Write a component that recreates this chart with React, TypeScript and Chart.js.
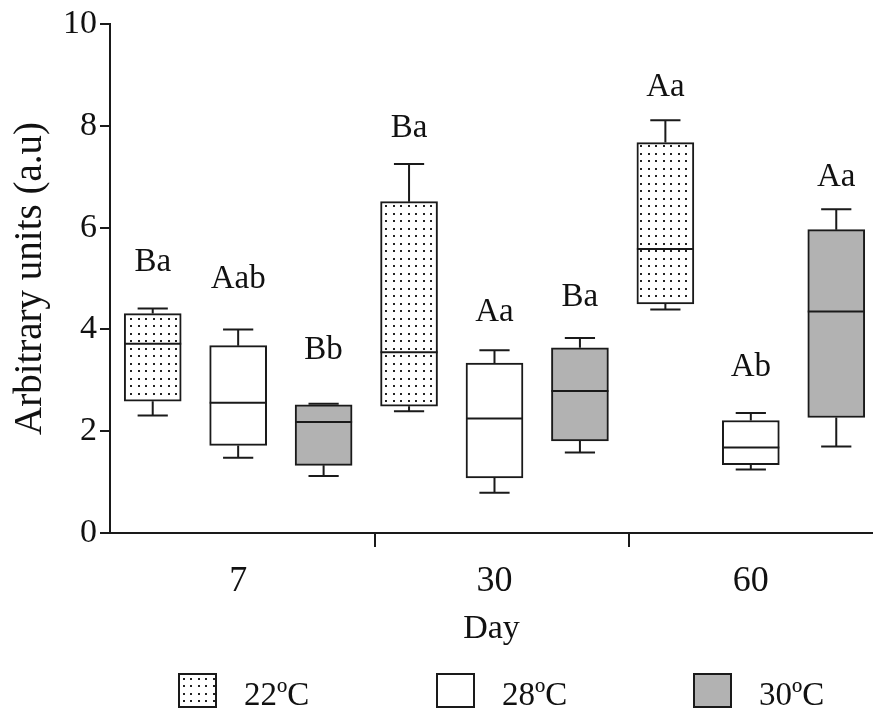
import React, { useEffect, useRef } from "react";
import { Chart, registerables } from "chart.js";

Chart.register(...registerables);

// ---- data ----
const days = ["7", "30", "60"];
const seriesLabels = ["22ºC", "28ºC", "30ºC"];

const t22Min = [2.31, 2.39, 4.39];
const t22Q1 = [2.59, 2.49, 4.5];
const t22Median = [3.72, 3.55, 5.58];
const t22Q3 = [4.31, 6.51, 7.67];
const t22Max = [4.41, 7.25, 8.11];
const t22Letters = ["Ba", "Ba", "Aa"];
const t22LetterY = [5.32, 7.95, 8.76];

const t28Min = [1.48, 0.79, 1.25];
const t28Q1 = [1.72, 1.08, 1.34];
const t28Median = [2.56, 2.25, 1.68];
const t28Q3 = [3.68, 3.34, 2.21];
const t28Max = [4.0, 3.59, 2.36];
const t28Letters = ["Aab", "Aa", "Ab"];
const t28LetterY = [4.99, 4.34, 3.26];

const t30Min = [1.12, 1.58, 1.7];
const t30Q1 = [1.33, 1.81, 2.27];
const t30Median = [2.18, 2.79, 4.35];
const t30Q3 = [2.52, 3.64, 5.96];
const t30Max = [2.54, 3.83, 6.36];
const t30Letters = ["Bb", "Ba", "Aa"];
const t30LetterY = [3.59, 4.63, 6.99];

const yTicks = [0, 2, 4, 6, 8, 10];
const groupSeparators = [2.6, 5.57];

const FONT = "'Liberation Serif', 'Times New Roman', serif";
const INK = "#111111";

function makeDotPattern(): CanvasPattern | string {
  const c = document.createElement("canvas");
  c.width = 15;
  c.height = 15;
  const g = c.getContext("2d");
  if (!g) return "#ffffff";
  g.fillStyle = "#ffffff";
  g.fillRect(0, 0, 15, 15);
  g.fillStyle = "#222222";
  const pts = [
    [3, 3],
    [10, 3],
    [3, 10],
    [10, 10],
  ];
  pts.forEach(([x, y]) => g.fillRect(x, y, 2, 2));
  const p = g.createPattern(c, "repeat");
  return p || "#ffffff";
}

const boxExtras = {
  id: "boxExtras",
  afterDatasetsDraw(chart: any) {
    const ctx = chart.ctx;
    const ys = chart.scales.y;
    ctx.save();
    chart.data.datasets.forEach((ds: any, di: number) => {
      const meta = chart.getDatasetMeta(di);
      meta.data.forEach((bar: any, i: number) => {
        const { x, width } = bar.getProps(["x", "width"], true);
        const yQ1 = ys.getPixelForValue(ds.q1[i]);
        const yQ3 = ys.getPixelForValue(ds.q3[i]);
        const yMin = ys.getPixelForValue(ds.wMin[i]);
        const yMax = ys.getPixelForValue(ds.wMax[i]);
        const yMed = ys.getPixelForValue(ds.median[i]);
        const capW = width * 0.53;
        ctx.strokeStyle = "#1a1a1a";
        ctx.lineWidth = 2;
        ctx.beginPath();
        ctx.moveTo(x, yQ3);
        ctx.lineTo(x, yMax);
        ctx.moveTo(x - capW / 2, yMax);
        ctx.lineTo(x + capW / 2, yMax);
        ctx.moveTo(x, yQ1);
        ctx.lineTo(x, yMin);
        ctx.moveTo(x - capW / 2, yMin);
        ctx.lineTo(x + capW / 2, yMin);
        ctx.moveTo(x - width / 2, yMed);
        ctx.lineTo(x + width / 2, yMed);
        ctx.stroke();
        ctx.fillStyle = INK;
        ctx.font = `33px ${FONT}`;
        ctx.textAlign = "center";
        ctx.textBaseline = "middle";
        ctx.fillText(ds.letters[i], x, ys.getPixelForValue(ds.letterY[i]));
      });
    });
    ctx.restore();
  },
  afterDraw(chart: any) {
    const ctx = chart.ctx;
    const xs = chart.scales.x;
    const bottom = chart.chartArea.bottom;
    ctx.save();
    ctx.strokeStyle = "#1a1a1a";
    ctx.lineWidth = 2;
    ctx.beginPath();
    groupSeparators.forEach((v) => {
      const px = Math.round(xs.getPixelForValue(v));
      ctx.moveTo(px, bottom);
      ctx.lineTo(px, bottom + 14);
    });
    ctx.stroke();

    // legend
    const left0 = 178;
    const pitch = 257.5;
    const boxW = 39;
    const boxH = 35;
    const top = 673;
    ctx.font = `33px ${FONT}`;
    ctx.textAlign = "left";
    ctx.textBaseline = "alphabetic";
    chart.data.datasets.forEach((ds: any, i: number) => {
      const bx = Math.round(left0 + pitch * i);
      ctx.fillStyle = ds.backgroundColor;
      ctx.fillRect(bx, top, boxW, boxH);
      ctx.strokeStyle = "#1a1a1a";
      ctx.lineWidth = 2;
      ctx.strokeRect(bx + 1, top + 1, boxW - 2, boxH - 2);
      ctx.fillStyle = INK;
      ctx.fillText(ds.label, bx + boxW + 27, 705);
    });
    ctx.restore();
  },
};

export default function App() {
  const ref = useRef<HTMLCanvasElement | null>(null);

  useEffect(() => {
    document.body.style.margin = "0";
    const canvas = ref.current;
    if (!canvas) return;
    const dots = makeDotPattern();
    const fills: any[] = [dots, "#ffffff", "#b2b2b2"];
    const stats = [
      { q1: t22Q1, q3: t22Q3, median: t22Median, wMin: t22Min, wMax: t22Max, letters: t22Letters, letterY: t22LetterY },
      { q1: t28Q1, q3: t28Q3, median: t28Median, wMin: t28Min, wMax: t28Max, letters: t28Letters, letterY: t28LetterY },
      { q1: t30Q1, q3: t30Q3, median: t30Median, wMin: t30Min, wMax: t30Max, letters: t30Letters, letterY: t30LetterY },
    ];
    const nSeries = seriesLabels.length;
    const dayPositions = days.map((_, di) => di * nSeries + (nSeries - 1) / 2);

    const datasets = seriesLabels.map((label, si) => ({
      label,
      data: days.map((_, di) => ({
        x: di * nSeries + si,
        y: [stats[si].q1[di], stats[si].q3[di]],
      })),
      backgroundColor: fills[si],
      borderColor: "#1a1a1a",
      borderWidth: 2,
      borderSkipped: false,
      barThickness: 57,
      grouped: false,
      ...stats[si],
    }));

    const chart = new Chart(canvas, {
      type: "bar",
      data: { datasets } as any,
      plugins: [boxExtras],
      options: {
        responsive: false,
        animation: false,
        devicePixelRatio: 1,
        layout: { padding: { top: 24, left: 0, right: 0, bottom: 0 } },
        plugins: {
          legend: { display: false },
          tooltip: { enabled: false },
        },
        scales: {
          x: {
            type: "linear",
            min: -0.5,
            max: 8.43,
            offset: false,
            grid: { display: true, drawOnChartArea: false, drawTicks: false },
            border: { display: true, color: "#1a1a1a", width: 2 },
            afterBuildTicks: (s: any) => {
              s.ticks = dayPositions.map((v) => ({ value: v }));
            },
            afterFit: (s: any) => {
              s.height = 177;
            },
            ticks: {
              autoSkip: false,
              maxRotation: 0,
              padding: 27,
              color: INK,
              font: { family: FONT, size: 36 },
              callback: (value: any) => {
                const idx = dayPositions.indexOf(Number(value));
                return idx >= 0 ? days[idx] : "";
              },
            },
            title: {
              display: true,
              text: "Day",
              color: INK,
              font: { family: FONT, size: 34 },
              padding: { top: 0, bottom: 61 },
            },
          },
          y: {
            type: "linear",
            min: 0,
            max: 10,
            afterBuildTicks: (s: any) => {
              s.ticks = yTicks.map((v) => ({ value: v }));
            },
            afterFit: (s: any) => {
              s.width = 110;
            },
            grid: {
              display: true,
              drawOnChartArea: false,
              drawTicks: true,
              tickLength: 10,
              color: "#1a1a1a",
              lineWidth: 2,
            },
            border: { display: true, color: "#1a1a1a", width: 2 },
            ticks: {
              padding: 3,
              color: INK,
              font: { family: FONT, size: 34 },
            },
            title: {
              display: true,
              text: "Arbitrary units (a.u)",
              color: INK,
              font: { family: FONT, size: 39 },
              padding: { top: 7, bottom: 0 },
            },
          },
        },
      } as any,
    });
    return () => chart.destroy();
  }, []);

  return (
    <div style={{ position: "absolute", left: 0, top: 0, width: 873, height: 710, background: "#ffffff" }}>
      <canvas ref={ref} width={873} height={710} style={{ display: "block" }} />
    </div>
  );
}
